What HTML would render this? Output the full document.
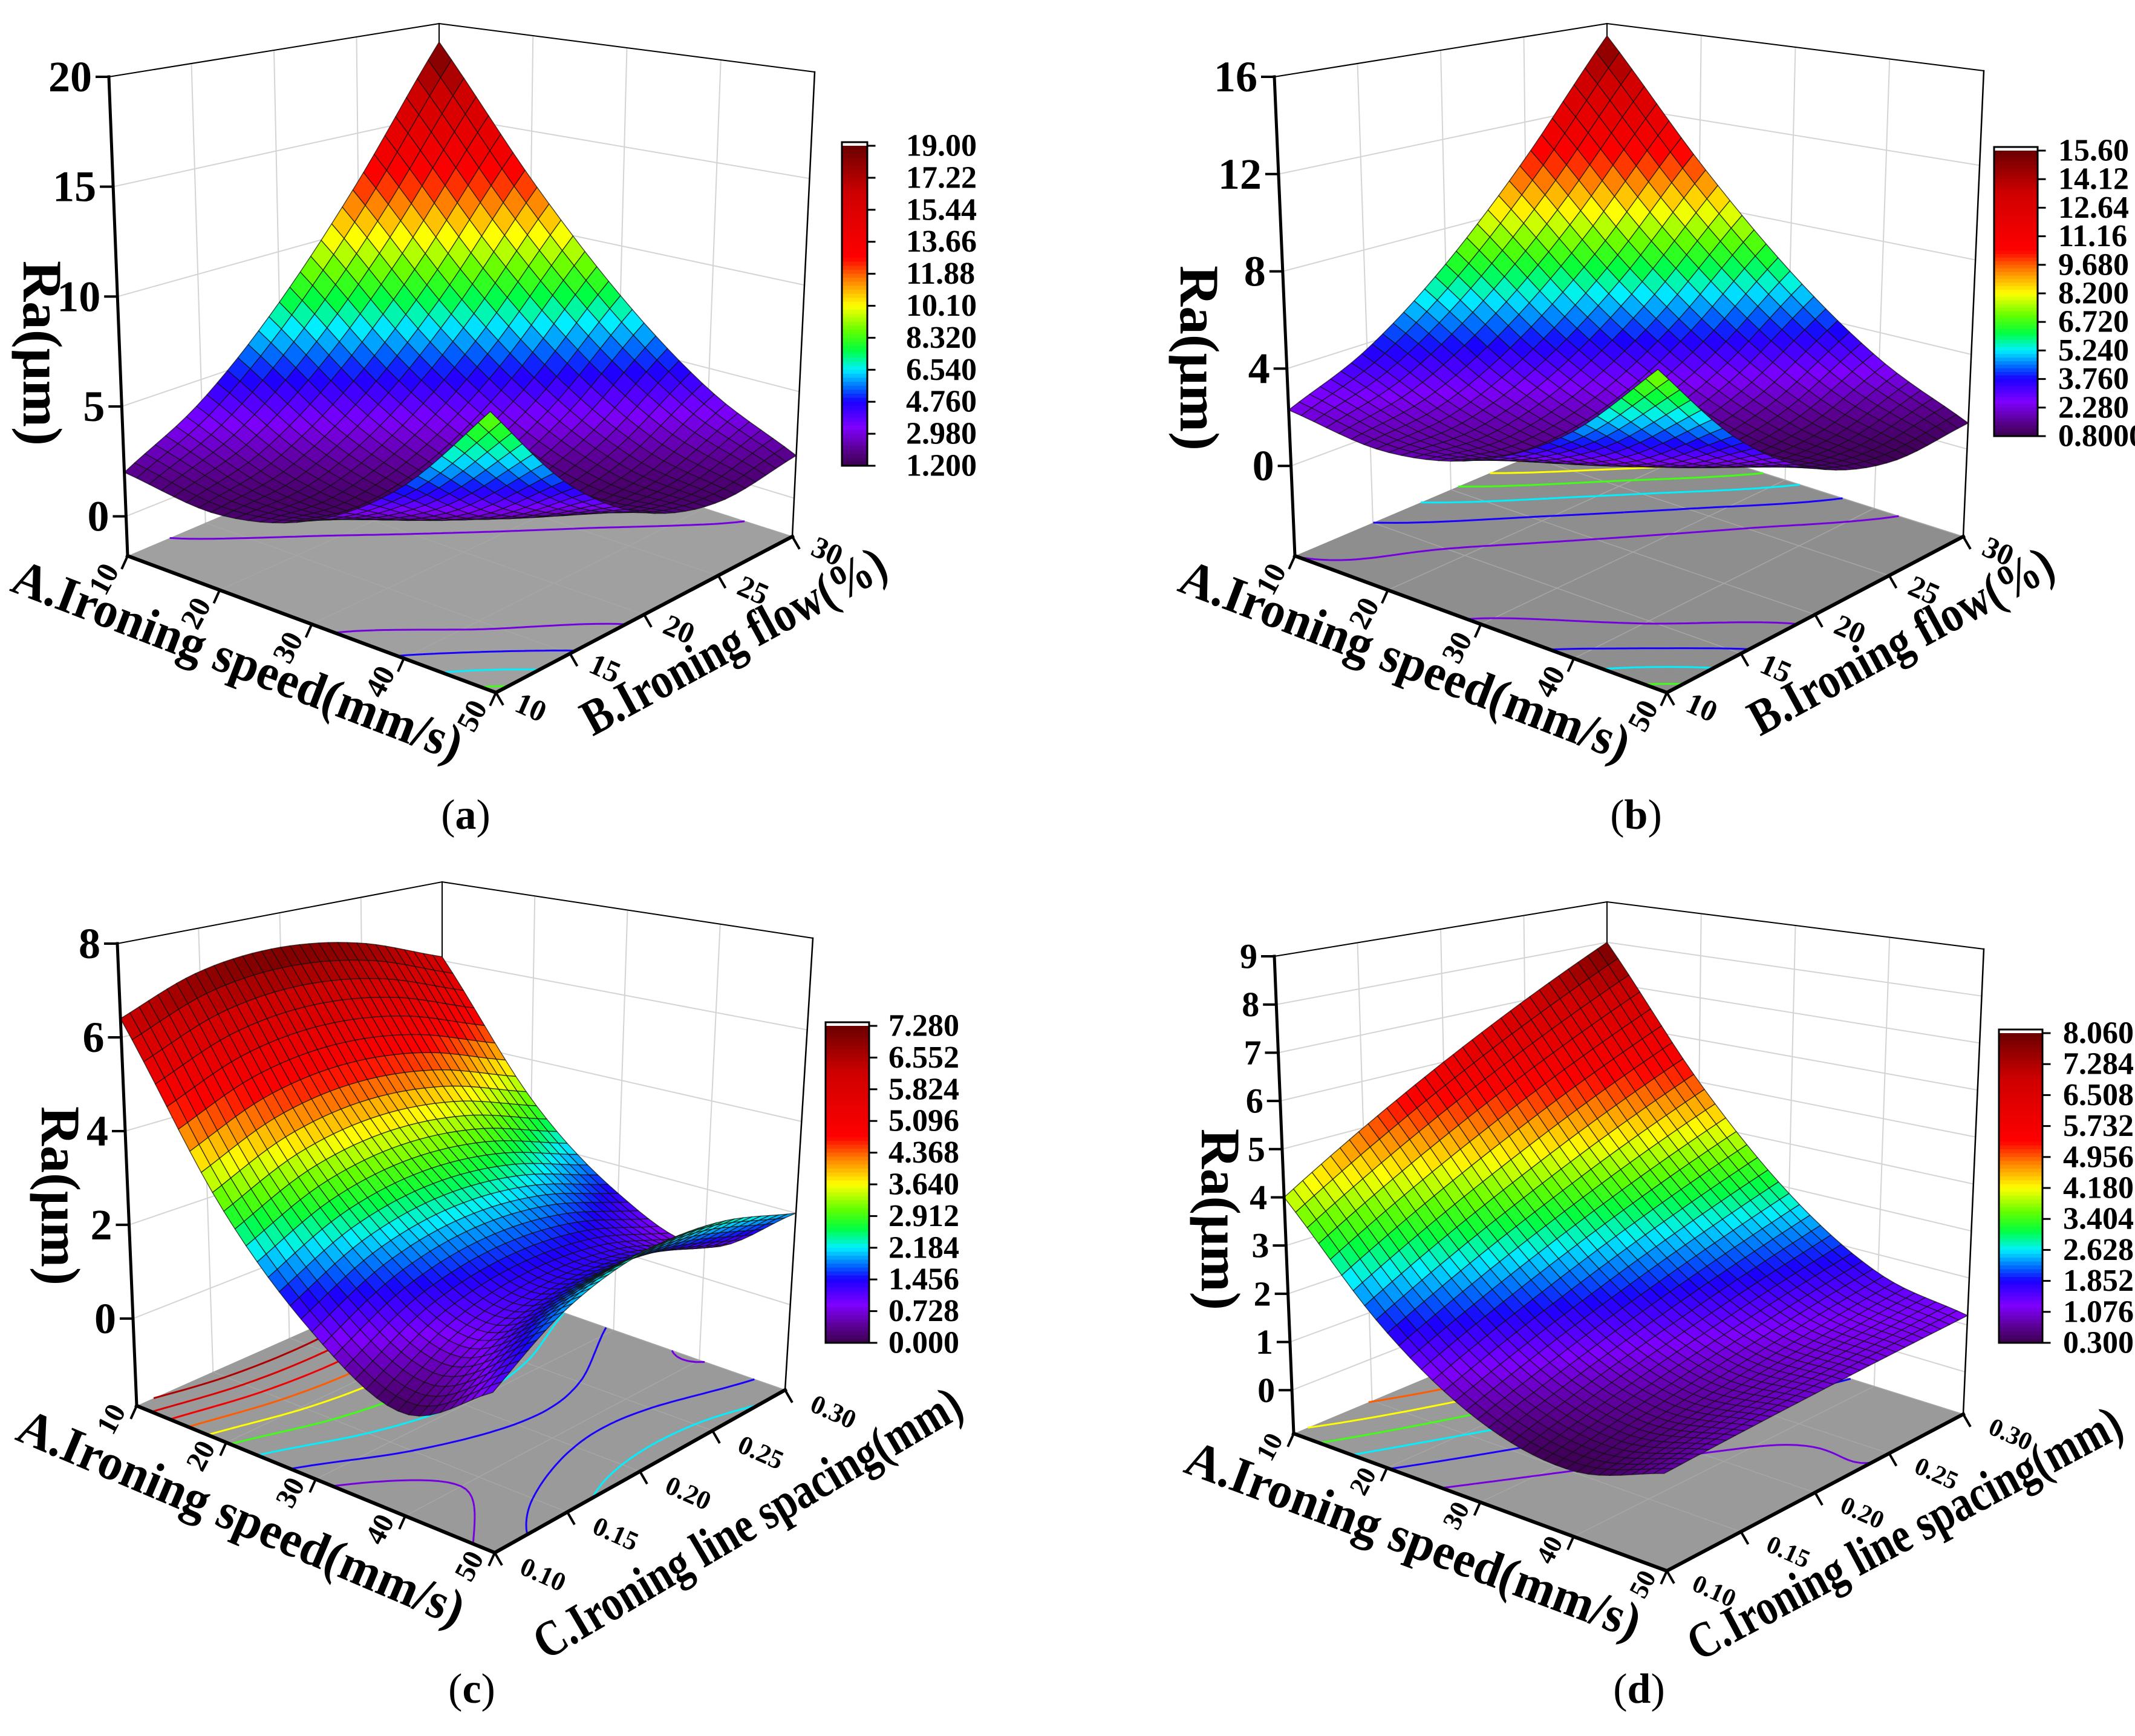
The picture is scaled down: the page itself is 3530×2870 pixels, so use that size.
<!DOCTYPE html>
<html><head><meta charset="utf-8"><title>Ra response surfaces</title>
<style>
html,body{margin:0;padding:0;background:#fff;}
svg{display:block;}
svg text{font-family:"Times New Roman","Liberation Serif","DejaVu Serif",serif !important;}
</style></head>
<body>
<svg id="fig" width="3530" height="2870" viewBox="0 0 3530 2870"></svg>
<script>
// ---------- data ----------
const speedTicks = [10, 20, 30, 40, 50];
const flowTicks = [10, 15, 20, 25, 30];
const spacingTicks = ['0.10', '0.15', '0.20', '0.25', '0.30'];
const zTicksA = [0, 5, 10, 15, 20];
const zTicksB = [0, 4, 8, 12, 16];
const zTicksC = [0, 2, 4, 6, 8];
const zTicksD = [0, 1, 2, 3, 4, 5, 6, 7, 8, 9];
const cbLabelsA = ['19.00','17.22','15.44','13.66','11.88','10.10','8.320','6.540','4.760','2.980','1.200'];
const cbLabelsB = ['15.60','14.12','12.64','11.16','9.680','8.200','6.720','5.240','3.760','2.280','0.8000'];
const cbLabelsC = ['7.280','6.552','5.824','5.096','4.368','3.640','2.912','2.184','1.456','0.728','0.000'];
const cbLabelsD = ['8.060','7.284','6.508','5.732','4.956','4.180','3.404','2.628','1.852','1.076','0.300'];
// surfaces: rows = A (speed 10..50), cols = B flow 10..30 or C spacing 0.10..0.30
const surfaceA = [
  [2.0, 4.0, 7.5, 12.5, 19.0],
  [1.5, 2.0, 4.0, 7.5, 12.5],
  [2.5, 1.5, 2.0, 4.0, 7.5],
  [5.0, 2.5, 1.5, 2.0, 4.0],
  [9.0, 5.0, 2.5, 1.5, 2.0]
];
const surfaceB = [
  [2.30, 3.75, 6.41, 10.30, 15.40],
  [1.77, 2.00, 3.45, 6.11, 10.00],
  [2.46, 1.47, 1.70, 3.15, 5.81],
  [4.37, 2.16, 1.17, 1.40, 2.85],
  [7.50, 4.07, 1.86, 0.87, 1.10]
];
const surfaceC = [
  [6.40, 7.04, 7.20, 6.89, 6.10],
  [3.03, 3.74, 3.99, 3.76, 3.05],
  [1.00, 1.80, 2.13, 1.98, 1.35],
  [0.05, 0.90, 1.30, 1.25, 0.70],
  [1.00, 1.96, 2.45, 2.46, 2.00]
];
const surfaceD = [
  [4.00, 5.00, 6.00, 7.00, 8.00],
  [1.90, 2.68, 3.45, 4.23, 5.00],
  [0.67, 1.22, 1.77, 2.32, 2.87],
  [0.30, 0.63, 0.95, 1.28, 1.60],
  [0.80, 0.90, 1.00, 1.10, 1.20]
];
const colorRangeA = [1.2, 19.0];
const colorRangeB = [0.8, 15.6];
const colorRangeC = [0.0, 7.28];
const colorRangeD = [0.3, 8.06];

// ---------- helpers ----------
const svg = document.getElementById('fig');
const NS = svg.namespaceURI;
function mk(tag, parent){ const e = document.createElementNS(NS, tag); parent.appendChild(e); return e; }
const stops = [[0,'#3c0050'],[0.05,'#5a0090'],[0.12,'#7f00ff'],[0.2,'#1a00ff'],[0.24,'#0060ff'],[0.3,'#00f0ff'],[0.36,'#00ff40'],[0.42,'#60ff00'],[0.5,'#ffff00'],[0.58,'#ff8000'],[0.65,'#ff0000'],[0.85,'#d00000'],[1,'#6a0000']];
function hx(c){ return [parseInt(c.substr(1,2),16),parseInt(c.substr(3,2),16),parseInt(c.substr(5,2),16)]; }
function cmap(t){
  t = Math.max(0, Math.min(1, t));
  for (let k = 0; k < stops.length - 1; k++){
    if (t <= stops[k+1][0]){
      const f = (t - stops[k][0]) / (stops[k+1][0] - stops[k][0]);
      const a = hx(stops[k][1]), b = hx(stops[k+1][1]);
      return 'rgb(' + a.map((v,i)=>Math.round(v + (b[i]-v)*f)).join(',') + ')';
    }
  }
  return stops[stops.length-1][1];
}
function cr(p0,p1,p2,p3,t){ return 0.5*((2*p1)+(-p0+p2)*t+(2*p0-5*p1+4*p2-p3)*t*t+(-p0+3*p1-3*p2+p3)*t*t*t); }
function gv(G,i,j){
  if (i < 0) return 2*gv(G,0,j) - gv(G,1,j);
  if (i > 4) return 2*gv(G,4,j) - gv(G,3,j);
  if (j < 0) return 2*gv(G,i,0) - gv(G,i,1);
  if (j > 4) return 2*gv(G,i,4) - gv(G,i,3);
  return G[i][j];
}
function surf(G,u,v){
  const x = u*4, y = v*4;
  const i = Math.min(Math.floor(x),3), j = Math.min(Math.floor(y),3);
  const t = x - i, s = y - j;
  const r = [];
  for (let k = -1; k <= 2; k++) r.push(cr(gv(G,i+k,j-1),gv(G,i+k,j),gv(G,i+k,j+1),gv(G,i+k,j+2),s));
  return cr(r[0],r[1],r[2],r[3],t);
}
function fmt(p){ return p[0].toFixed(1)+','+p[1].toFixed(1); }

function drawPanel(cfg){
  const g = mk('g', svg);
  
  
  const L=cfg.L, F=cfg.F, R=cfg.R, Bk=cfg.Bk, Lt=cfg.Lt, Rt=cfg.Rt, Bt=cfg.Bt;
  const Ft=[Lt[0]+Rt[0]-Bt[0], Lt[1]+Rt[1]-Bt[1]];
  function bil(p00,p10,p11,p01,a,b,k){ return p00[k]*(1-a)*(1-b)+p10[k]*a*(1-b)+p11[k]*a*b+p01[k]*(1-a)*b; }
  function P(a,b,z){
    const t=(z-cfg.zmin)/(cfg.zmax-cfg.zmin);
    const fx=bil(L,F,R,Bk,a,b,0), fy=bil(L,F,R,Bk,a,b,1);
    const tx=bil(Lt,Ft,Rt,Bt,a,b,0), ty=bil(Lt,Ft,Rt,Bt,a,b,1);
    return [fx+(tx-fx)*t, fy+(ty-fy)*t];
  }
  const z0=cfg.zmin, z1=cfg.zmax;
  function line(p,q,col,w,name){
    const e=mk('line',g);
    
    
    e.setAttribute('x1',p[0]);e.setAttribute('y1',p[1]);e.setAttribute('x2',q[0]);e.setAttribute('y2',q[1]);
    e.setAttribute('stroke',col);e.setAttribute('stroke-width',w);e.setAttribute('stroke-linecap','square');
    return e;
  }
  function poly(pts,fill,name){
    const e=mk('polygon',g);
    
    
    e.setAttribute('points',pts.map(fmt).join(' '));
    e.setAttribute('fill',fill);
    return e;
  }
  poly([P(0,0,z0),P(0,1,z0),P(0,1,z1),P(0,0,z1)],'#ffffff','left-back-wall');
  poly([P(0,1,z0),P(1,1,z0),P(1,1,z1),P(0,1,z1)],'#ffffff','right-back-wall');
  cfg.zTicks.forEach(v=>{
    line(P(0,0,v),P(0,1,v),'#d4d4d4',2,'wall-gridline');
    line(P(0,1,v),P(1,1,v),'#d4d4d4',2,'wall-gridline');
  });
  for (let k=1;k<5;k++){
    line(P(0,k/4,z0),P(0,k/4,z1),'#d4d4d4',2,'wall-gridline');
    line(P(k/4,1,z0),P(k/4,1,z1),'#d4d4d4',2,'wall-gridline');
  }
  poly([P(0,0,z0),P(1,0,z0),P(1,1,z0),P(0,1,z0)],cfg.floor,'floor-plane');
  for (let k=1;k<5;k++){
    line(P(k/4,0,z0),P(k/4,1,z0),'#a6a6a6',1.5,'floor-gridline');
    line(P(0,k/4,z0),P(1,k/4,z0),'#a6a6a6',1.5,'floor-gridline');
  }
  const M=60, fv=[];
  for (let i=0;i<=M;i++){ fv.push([]); for (let j=0;j<=M;j++) fv[i].push(surf(cfg.G,i/M,j/M)); }
  const [cmin,cmax]=cfg.crange;
  const nl=cfg.cbLabels.length;
  for (let l=1;l<nl-1;l++){
    const lev=cmin+(cmax-cmin)*l/(nl-1);
    let d='';
    for (let i=0;i<M;i++) for (let j=0;j<M;j++){
      const c=[[i,j],[i+1,j],[i+1,j+1],[i,j+1]];
      const pts=[];
      for (let e=0;e<4;e++){
        const A=c[e],B=c[(e+1)%4];
        const va=fv[A[0]][A[1]]-lev, vb=fv[B[0]][B[1]]-lev;
        if ((va<0)!==(vb<0)){
          const f=va/(va-vb);
          pts.push(P((A[0]+(B[0]-A[0])*f)/M,(A[1]+(B[1]-A[1])*f)/M,z0));
        }
      }
      if (pts.length>=2) d+='M'+fmt(pts[0])+'L'+fmt(pts[1]);
      if (pts.length===4) d+='M'+fmt(pts[2])+'L'+fmt(pts[3]);
    }
    if (d){
      const e=mk('path',g);
      
      
      e.setAttribute('d',d);e.setAttribute('stroke',cmap(l/(nl-1)));e.setAttribute('stroke-width',3);e.setAttribute('fill','none');
    }
  }
  line(P(0,0,z1),P(0,1,z1),'#000',2,'box-top-edge');
  line(P(0,1,z1),P(1,1,z1),'#000',2,'box-top-edge');
  line(P(0,1,z0),P(0,1,z1),'#000',2,'box-back-edge');
  line(P(1,1,z0),P(1,1,z1),'#000',2.5,'box-right-edge');
  const N=cfg.N, cells=[];
  const sv=[];
  for (let i=0;i<=N;i++){ sv.push([]); for (let j=0;j<=N;j++) sv[i].push(surf(cfg.G,i/N,j/N)); }
  for (let i=0;i<N;i++) for (let j=0;j<N;j++) cells.push([i,j,(1-(i+0.5)/N)+(j+0.5)/N]);
  cells.sort((p,q)=>q[2]-p[2]);
  const sg=mk('g',g);
  
  
  cells.forEach(c=>{
    const i=c[0],j=c[1];
    const zs=[sv[i][j],sv[i+1][j],sv[i+1][j+1],sv[i][j+1]];
    const avg=(zs[0]+zs[1]+zs[2]+zs[3])/4;
    const e=mk('polygon',sg);
    
    
    e.setAttribute('points',[P(i/N,j/N,zs[0]),P((i+1)/N,j/N,zs[1]),P((i+1)/N,(j+1)/N,zs[2]),P(i/N,(j+1)/N,zs[3])].map(fmt).join(' '));
    e.setAttribute('fill',cmap((avg-cmin)/(cmax-cmin)));
    e.setAttribute('stroke','#111');e.setAttribute('stroke-width',1.4);e.setAttribute('stroke-opacity',0.75);e.setAttribute('stroke-linejoin','round');
  });
  line(P(0,0,z0),P(1,0,z0),'#000',6,'speed-axis-line');
  line(P(1,0,z0),P(1,1,z0),'#000',6,'second-axis-line');
  line(P(0,0,z0),P(0,0,z1),'#000',5,'ra-axis-line');
  function text(str,x,y,size,anchor,rot,name,len){
    const e=mk('text',g);
    
    
    e.setAttribute('x',x);e.setAttribute('y',y);e.setAttribute('font-size',size);e.setAttribute('font-weight','bold');
    e.setAttribute('text-anchor',anchor);e.setAttribute('dominant-baseline','central');
    if (rot) e.setAttribute('transform','rotate('+rot+' '+x+' '+y+')');
    if (len){ e.setAttribute('textLength',len); e.setAttribute('lengthAdjust','spacingAndGlyphs'); }
    e.textContent=str;
    return e;
  }
  cfg.zTicks.forEach(v=>{
    const p=P(0,0,v);
    line(p,[p[0]-20,p[1]],'#000',4,'ra-tick');
    text(String(v),p[0]-28,p[1],cfg.zFont,'end',0,'ra-tick-label');
  });
  speedTicks.forEach((v,k)=>{
    const p=P((v-10)/40,0,z0);
    line(p,[p[0]-9,p[1]+20],'#000',4,'speed-tick');
    text(String(v),p[0]+cfg.aOff[0],p[1]+cfg.aOff[1],cfg.tFont,'middle',-62,'speed-tick-label');
  });
  cfg.bTicks.forEach((v,k)=>{
    const p=P(1,k/4,z0);
    line(p,[p[0]+11,p[1]+19],'#000',4,'second-tick');
    text(String(v),p[0]+cfg.bOff[0],p[1]+cfg.bOff[1],cfg.bFont,'middle',24,'second-tick-label');
  });
  text('Ra(\u03bcm)',cfg.ra[0],cfg.ra[1],92,'middle',90,'ra-axis-title',cfg.ra[2]);
  text('A.Ironing speed(mm/s)',cfg.at[0],cfg.at[1],84,'middle',cfg.at[2],'speed-axis-title',cfg.at[3]);
  text(cfg.bTitle,cfg.bt[0],cfg.bt[1],84,'middle',cfg.bt[2],'second-axis-title',cfg.bt[3]);
  const cb=cfg.cb;
  const steps=80;
  for (let s=0;s<steps;s++){
    const e=mk('rect',g);
    
    
    const y=cb[1]+(cb[3]-cb[1])*s/steps;
    e.setAttribute('x',cb[0]);e.setAttribute('y',y);e.setAttribute('width',cb[2]);e.setAttribute('height',(cb[3]-cb[1])/steps+1);
    e.setAttribute('fill',cmap(1-(s+0.5)/steps));
  }
  const fr=mk('rect',g);
  
  
  fr.setAttribute('x',cb[0]);fr.setAttribute('y',cb[1]-6);fr.setAttribute('width',cb[2]);fr.setAttribute('height',cb[3]-cb[1]+6);
  fr.setAttribute('fill','none');fr.setAttribute('stroke','#000');fr.setAttribute('stroke-width',3);
  cfg.cbLabels.forEach((lab,k)=>{
    const y=cb[1]+(cb[3]-cb[1])*k/(nl-1);
    line([cb[0]+cb[2],y],[cb[0]+cb[2]+12,y],'#000',3,'colorbar-tick');
    text(lab,cb[4],y,52,'start',0,'colorbar-label');
  });
  const cap=mk('text',g);
  
  
  cap.setAttribute('x',cfg.cap[0]);cap.setAttribute('y',cfg.cap[1]);cap.setAttribute('font-size',70);cap.setAttribute('text-anchor','middle');
  cap.innerHTML='(<tspan font-weight="bold">'+cfg.letter+'</tspan>)';
}

drawPanel({name:'panel-a',L:[211,919],F:[820,1145],R:[1310,887],Bk:[726,700],Lt:[180,127],Rt:[1347,119],Bt:[726,39],
  zmin:-1.8,zmax:20,G:surfaceA,crange:colorRangeA,cbLabels:cbLabelsA,zTicks:zTicksA,bTicks:flowTicks,N:30,floor:'#a0a0a0',
  zFont:72,tFont:50,bFont:50,aOff:[-40,38],bOff:[58,24],ra:[70,584,306],at:[393,1092,21,790],bTitle:'B.Ironing flow(%)',bt:[1213,1060,-28.5,560],
  cb:[1392,241,42,770,1498],cap:[770,1370],letter:'a'});
drawPanel({name:'panel-b',L:[2141,919],F:[2756,1145],R:[3246,887],Bk:[2657,700],Lt:[2107,127],Rt:[3280,117],Bt:[2657,39],
  zmin:-3.7,zmax:16,G:surfaceB,crange:colorRangeB,cbLabels:cbLabelsB,zTicks:zTicksB,bTicks:flowTicks,N:30,floor:'#8e8e8e',
  zFont:72,tFont:50,bFont:50,aOff:[-40,38],bOff:[58,24],ra:[1983,592,306],at:[2323,1092,21,790],bTitle:'B.Ironing flow(%)',bt:[3143,1060,-28.5,560],
  cb:[3297,249,72,721,3403],cap:[2705,1370],letter:'b'});
drawPanel({name:'panel-c',L:[226,2324],F:[818,2567],R:[1298,2298],Bk:[731,2100],Lt:[194,1560],Rt:[1344,1551],Bt:[731,1458],
  zmin:-1.86,zmax:8,G:surfaceC,crange:colorRangeC,cbLabels:cbLabelsC,zTicks:zTicksC,bTicks:spacingTicks,N:34,floor:'#9a9a9a',
  zFont:72,tFont:48,bFont:44,aOff:[-42,22],bOff:[80,36],ra:[100,1977,296],at:[399,2509,23,794],bTitle:'C.Ironing line spacing(mm)',bt:[1236,2518,-30.4,805],
  cb:[1365,1696,72,2220,1469],cap:[780,2815],letter:'c'});
drawPanel({name:'panel-d',L:[2139,2370],F:[2756,2597],R:[3246,2338],Bk:[2657,2153],Lt:[2107,1581],Rt:[3280,1569],Bt:[2657,1491],
  zmin:-0.9,zmax:9,G:surfaceD,crange:colorRangeD,cbLabels:cbLabelsD,zTicks:zTicksD,bTicks:spacingTicks,N:34,floor:'#9a9a9a',
  zFont:58,tFont:44,bFont:42,aOff:[-40,22],bOff:[78,34],ra:[2018,2016,300],at:[2337,2546,20.4,796],bTitle:'C.Ironing line spacing(mm)',bt:[3149,2535,-28,800],
  cb:[3305,1708,72,2220,3411],cap:[2710,2815],letter:'d'});
</script>
</body></html>
